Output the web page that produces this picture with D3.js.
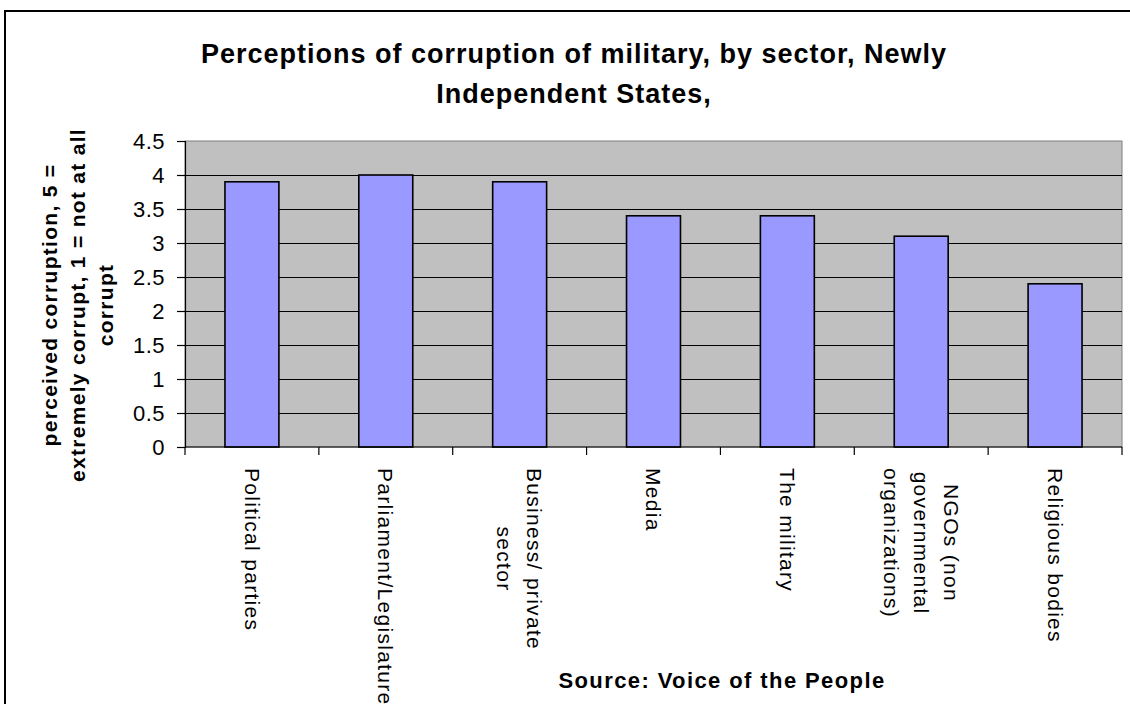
<!DOCTYPE html>
<html>
<head>
<meta charset="utf-8">
<script src="https://cdn.jsdelivr.net/npm/d3@7"></script>
<style>
  html, body { margin: 0; padding: 0; background: #ffffff; }
  svg { display: block; }
  text { font-family: "Liberation Sans", Arial, sans-serif; fill: #000; }
</style>
</head>
<body>
<svg id="chart" width="1130" height="704"></svg>
<script>
// ---- data ----
const categories = [
  "Political parties",
  "Parliament/Legislature",
  "Business/ private\nsector",
  "Media",
  "The military",
  "NGOs (non\ngovernmental\norganizations)",
  "Religious bodies"
];
const values = [3.9, 4.0, 3.9, 3.4, 3.4, 3.1, 2.4];
const yTicks = [0, 0.5, 1, 1.5, 2, 2.5, 3, 3.5, 4, 4.5];
const titleLines = ["Perceptions of corruption of military, by sector, Newly", "Independent States,"];
const yTitleLines = ["perceived corruption, 5 =", "extremely corrupt, 1 = not at all", "corrupt"];
const xTitle = "Source: Voice of the People";

// ---- layout ----
const svg = d3.select("#chart");
const plot = { left: 185, right: 1122, top: 141, bottom: 447 };

// chart frame
svg.append("rect")
  .attr("x", 5).attr("y", 11)
  .attr("width", 1200).attr("height", 800)
  .attr("fill", "#fff").attr("stroke", "#000").attr("stroke-width", 2);

const x = d3.scaleBand().domain(categories).range([plot.left, plot.right]).padding(0);
const y = d3.scaleLinear().domain([0, 4.5]).range([plot.bottom, plot.top]);

// plot background
svg.append("rect")
  .attr("x", plot.left).attr("y", plot.top)
  .attr("width", plot.right - plot.left).attr("height", plot.bottom - plot.top)
  .attr("fill", "#c0c0c0").attr("stroke", "#808080").attr("stroke-width", 1);

// gridlines
svg.append("g").selectAll("line")
  .data(yTicks.filter(d => d > 0 && d < 4.5))
  .join("line")
  .attr("x1", plot.left).attr("x2", plot.right)
  .attr("y1", d => Math.round(y(d)) + 0.5).attr("y2", d => Math.round(y(d)) + 0.5)
  .attr("stroke", "#000").attr("stroke-width", 1);

// bars
const barW = x.bandwidth() * 0.403;
svg.append("g").selectAll("rect")
  .data(categories.map((c, i) => ({ c, v: values[i] })))
  .join("rect")
  .attr("x", d => x(d.c) + (x.bandwidth() - barW) / 2)
  .attr("y", d => y(d.v))
  .attr("width", barW)
  .attr("height", d => y(0) - y(d.v))
  .attr("fill", "#9999ff")
  .attr("stroke", "#000").attr("stroke-width", 1.6);

// y axis
const yAxis = d3.axisLeft(y).tickValues(yTicks).tickSize(8).tickPadding(12)
  .tickFormat(d => d3.format("")(d));
const gy = svg.append("g").attr("transform", `translate(${plot.left},0)`).call(yAxis);
gy.select(".domain").attr("stroke", "#000").attr("stroke-width", 1.2);
gy.selectAll(".tick line").attr("stroke", "#000").attr("stroke-width", 1.2);
gy.selectAll(".tick text")
  .attr("font-size", 22).attr("letter-spacing", "0.5px")
  .attr("font-family", "Liberation Sans, Arial, sans-serif").attr("fill", "#000");

// x axis (ticks at band boundaries)
const boundaries = categories.map(c => x(c)).concat([plot.right]);
svg.append("line")
  .attr("x1", plot.left).attr("x2", plot.right)
  .attr("y1", plot.bottom).attr("y2", plot.bottom)
  .attr("stroke", "#000").attr("stroke-width", 1.2);
svg.append("g").selectAll("line")
  .data(boundaries)
  .join("line")
  .attr("x1", d => d).attr("x2", d => d)
  .attr("y1", plot.bottom).attr("y2", plot.bottom + 8)
  .attr("stroke", "#000").attr("stroke-width", 1.2);

// x labels rotated 90deg clockwise, lines centered
const lineGap = 30;
const labelTop = 468;
categories.forEach(c => {
  const lines = c.split("\n");
  const cx = x(c) + x.bandwidth() / 2;
  const n = lines.length;
  const g = svg.append("g");
  const texts = lines.map((ln, i) => {
    // first line is rightmost
    const lx = cx + ((n - 1) / 2 - i) * lineGap;
    return g.append("text")
      .text(ln)
      .attr("font-size", 21)
      .attr("letter-spacing", "1.3px")
      .attr("text-anchor", "middle")
      .attr("dy", "0.35em")
      .attr("data-lx", lx);
  });
  const maxLen = d3.max(texts, t => t.node().getComputedTextLength());
  texts.forEach(t => {
    const lx = +t.attr("data-lx");
    t.attr("transform", `translate(${lx},${labelTop + maxLen / 2}) rotate(90)`);
  });
});

// title
svg.append("g").selectAll("text")
  .data(titleLines)
  .join("text")
  .attr("x", 574).attr("y", (d, i) => 63 + i * 40)
  .attr("text-anchor", "middle")
  .attr("font-size", 27).attr("font-weight", "bold")
  .attr("letter-spacing", "1px")
  .text(d => d);

// y axis title
svg.append("g").selectAll("text")
  .data(yTitleLines)
  .join("text")
  .attr("transform", (d, i) => `translate(${57 + i * 28},305) rotate(-90)`)
  .attr("text-anchor", "middle")
  .attr("font-size", 21).attr("font-weight", "bold")
  .attr("letter-spacing", "1.3px")
  .text(d => d);

// x axis title
svg.append("text")
  .attr("x", 722).attr("y", 688)
  .attr("text-anchor", "middle")
  .attr("font-size", 22).attr("font-weight", "bold")
  .attr("letter-spacing", "1.4px")
  .text(xTitle);
</script>
</body>
</html>
